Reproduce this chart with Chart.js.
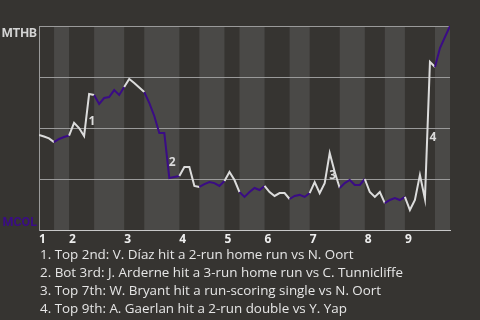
<!DOCTYPE html>
<html>
<head>
<meta charset="utf-8">
<script src="https://cdn.jsdelivr.net/npm/chart.js@4.4.1/dist/chart.umd.min.js"></script>
<style>
  html, body { margin: 0; padding: 0; background: #363431; }
  #wrap { position: relative; width: 480px; height: 320px; overflow: hidden; }
  canvas { position: absolute; left: 0; top: 0; }
  #notes { position: absolute; left: 40px; top: 245px; font-family: "Open Sans", sans-serif; font-size: 13.4px; line-height: 18px; color: #e6e6e6; white-space: nowrap; }
</style>
</head>
<body>
<div id="wrap">
  <canvas id="c" width="480" height="320"></canvas>
  <div id="notes"></div>
</div>
<script>
// Win probability for MTHB (1 = MTHB wins, 0 = MCOL wins), one value per game event
const winProb = [
  0.466, 0.458, 0.449, 0.431, 0.446, 0.456, 0.463, 0.525, 0.500, 0.461,
  0.667, 0.662, 0.618, 0.647, 0.652, 0.686, 0.662, 0.701, 0.740, 0.721,
  0.699, 0.676, 0.623, 0.559, 0.475, 0.475, 0.255, 0.260, 0.265, 0.309,
  0.309, 0.216, 0.211, 0.225, 0.235, 0.230, 0.216, 0.240, 0.284, 0.245,
  0.186, 0.162, 0.186, 0.206, 0.196, 0.216, 0.186, 0.167, 0.181, 0.181,
  0.152, 0.167, 0.172, 0.162, 0.181, 0.235, 0.181, 0.230, 0.377, 0.284,
  0.206, 0.230, 0.245, 0.221, 0.221, 0.250, 0.186, 0.162, 0.186, 0.132,
  0.147, 0.157, 0.147, 0.162, 0.098, 0.147, 0.270, 0.152, 0.824, 0.799,
  0.892, 0.946, 1.000
];
// Event index where each half-inning starts (top 1st, bot 1st, top 2nd, ...), plus the final event
const halfInningStarts = [0, 3, 6, 11, 17, 21, 28, 32, 37, 40, 45, 50, 54, 60, 65, 69, 73, 79, 82];
const inningLabels = ["1", "2", "3", "4", "5", "6", "7", "8", "9"];
const teamTop = "MTHB";
const teamBottom = "MCOL";
// Key plays: event index where the play ends, and the note text
const keyPlayEvents = [10, 26, 58, 78];
const keyPlayNotes = [
  "1. Top 2nd: V. Díaz hit a 2-run home run vs N. Oort",
  "2. Bot 3rd: J. Arderne hit a 3-run home run vs C. Tunnicliffe",
  "3. Top 7th: W. Bryant hit a run-scoring single vs N. Oort",
  "4. Top 9th: A. Gaerlan hit a 2-run double vs Y. Yap"
];

const BG = '#363431';
const STRIPE = '#4a4947';
const PURPLE = '#3a0c85';
const LIGHT = '#dcdcdc';
const FONT = '"Open Sans", sans-serif';

document.getElementById('notes').innerHTML = keyPlayNotes.map(t => '<div>' + t + '</div>').join('');

function halfIndexOf(i) {
  let k = 0;
  for (let j = 0; j < halfInningStarts.length - 1; j++) {
    if (i >= halfInningStarts[j]) k = j;
  }
  return k;
}

const points = winProb.map((v, i) => ({ x: i, y: v }));
const inningStartValues = halfInningStarts.filter((v, k) => k % 2 === 0 && k < halfInningStarts.length - 1);

const stripePlugin = {
  id: 'stripes',
  beforeDraw(chart) {
    const { ctx, chartArea: a, scales: { x } } = chart;
    ctx.save();
    ctx.fillStyle = BG;
    ctx.fillRect(0, 0, chart.width, chart.height);
    for (let k = 0; k < halfInningStarts.length - 1; k++) {
      if (k % 2 === 1) {
        const x0 = x.getPixelForValue(halfInningStarts[k]);
        const x1 = x.getPixelForValue(halfInningStarts[k + 1]);
        ctx.fillStyle = STRIPE;
        ctx.fillRect(x0, a.top, x1 - x0, a.bottom - a.top);
      }
    }
    ctx.restore();
  },
  afterDraw(chart) {
    const { ctx, chartArea: a, scales: { x, y } } = chart;
    ctx.save();
    ctx.font = 'bold 12.5px Roboto, sans-serif';
    ctx.textAlign = 'right';
    ctx.textBaseline = 'middle';
    ctx.fillStyle = '#d4d4d4';
    ctx.fillText(teamTop, a.left - 2, a.top + 7.5);
    ctx.fillStyle = PURPLE;
    ctx.fillText(teamBottom, a.left - 2, a.bottom - 7.5);
    // key play markers
    ctx.font = 'bold 12px ' + FONT;
    ctx.textAlign = 'left';
    ctx.fillStyle = LIGHT;
    keyPlayEvents.forEach((e, n) => {
      const px = (x.getPixelForValue(e - 1) + x.getPixelForValue(e)) / 2;
      const py = (y.getPixelForValue(winProb[e - 1]) + y.getPixelForValue(winProb[e])) / 2;
      ctx.fillText(String(n + 1), px + 2, py + 7);
    });
    ctx.restore();
  }
};

new Chart(document.getElementById('c'), {
  type: 'line',
  data: {
    datasets: [{
      data: points,
      borderWidth: 2,
      borderColor: LIGHT,
      pointRadius: 0,
      tension: 0,
      segment: {
        borderColor: c => (halfIndexOf(c.p0DataIndex) % 2 === 1 ? PURPLE : LIGHT)
      }
    }]
  },
  options: {
    responsive: false,
    animation: false,
    events: [],
    layout: { padding: { top: 26, right: 30, left: 0, bottom: 0 } },
    plugins: { legend: { display: false }, tooltip: { enabled: false } },
    scales: {
      x: {
        type: 'linear',
        min: 0,
        max: halfInningStarts[halfInningStarts.length - 1],
        afterFit(s) { s.height = 90; },
        afterBuildTicks(s) { s.ticks = inningStartValues.map(v => ({ value: v })); },
        grid: { display: false, drawTicks: false },
        border: { display: true, color: '#c8c8c8', width: 1 },
        ticks: {
          align: 'start',
          padding: 2,
          color: '#eeeeee',
          font: { family: FONT, size: 12, weight: 'bold' },
          callback: (v, i) => inningLabels[i]
        }
      },
      y: {
        min: 0,
        max: 1,
        afterFit(s) { s.width = 39; },
        afterBuildTicks(s) { s.ticks = [0, 0.25, 0.5, 0.75, 1].map(v => ({ value: v })); },
        grid: {
          drawTicks: false,
          color: c => (c.tick.value === 0 ? '#c8c8c8' : '#9a9a9a'),
          lineWidth: 1
        },
        border: { display: true, color: '#9a9a9a', width: 1 },
        ticks: { display: false }
      }
    }
  },
  plugins: [stripePlugin]
});
</script>
</body>
</html>
